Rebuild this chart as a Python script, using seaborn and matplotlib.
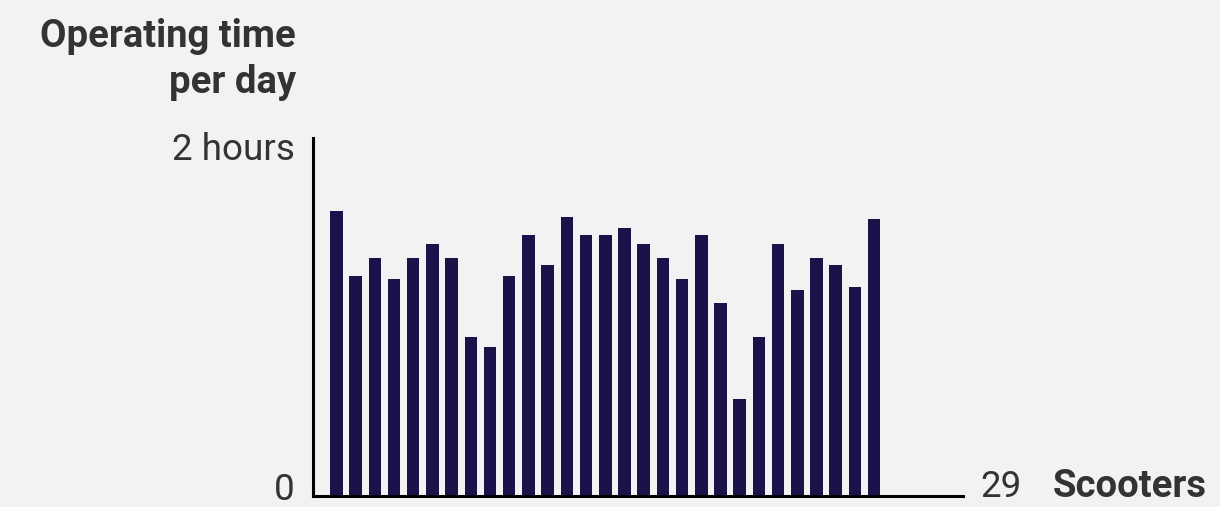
import matplotlib
matplotlib.use("Agg")
import matplotlib.pyplot as plt
import seaborn as sns
import pandas as pd

# Operating time per scooter (hours per day)
scooters = list(range(1, 30))
hours = [1.59, 1.23, 1.33, 1.21, 1.33, 1.41, 1.33, 0.89, 0.83, 1.23,
         1.46, 1.29, 1.56, 1.46, 1.46, 1.50, 1.41, 1.33, 1.21, 1.46,
         1.08, 0.54, 0.89, 1.41, 1.15, 1.33, 1.29, 1.17, 1.55]
ytick_labels = ["0", "2 hours"]

df = pd.DataFrame({"Scooter": scooters, "Hours": hours})

bg = "#f2f2f2"
bar_color = "#1b1249"
text_color = "#333333"
W, H = 1220, 507

sns.set_theme(style="white")
plt.rcParams["font.family"] = ["Roboto", "DejaVu Sans"]

fig = plt.figure(figsize=(W / 100, H / 100), dpi=100, facecolor=bg)
ax = fig.add_axes([313 / W, 11 / H, 650 / W, 358 / H])
ax.set_facecolor(bg)

sns.barplot(data=df, x="Scooter", y="Hours", color=bar_color, width=0.65,
            saturation=1, linewidth=0, ax=ax)

ax.set_xlim(-1.22, 32.63)
ax.set_ylim(0, 2)
ax.set_xticks([])
ax.set_yticks([])
ax.set_xlabel("")
ax.set_ylabel("")

for side in ["top", "right"]:
    ax.spines[side].set_visible(False)
for side in ["left", "bottom"]:
    ax.spines[side].set_color("black")
    ax.spines[side].set_linewidth(2.2)


def px_text(x, y, s, size=26.5, **kw):
    # place text by pixel position (from top-left), baseline anchored
    fig.text(x / W, 1 - y / H, s, va="baseline", fontsize=size,
             color=text_color, **kw)


# y axis labels
px_text(295, 500, ytick_labels[0], ha="right")
px_text(295, 160, ytick_labels[1], ha="right")

# title in the upper left
px_text(296, 46.7, "Operating time", size=27.5, ha="right", fontweight="bold")
px_text(296, 93, "per day", size=27.5, ha="right", fontweight="bold")

# x axis end label
px_text(1001, 497, "29", ha="center")
px_text(1207, 497, "Scooters", size=27.5, ha="right", fontweight="bold")

fig.savefig("out.png", dpi=100, facecolor=bg)
